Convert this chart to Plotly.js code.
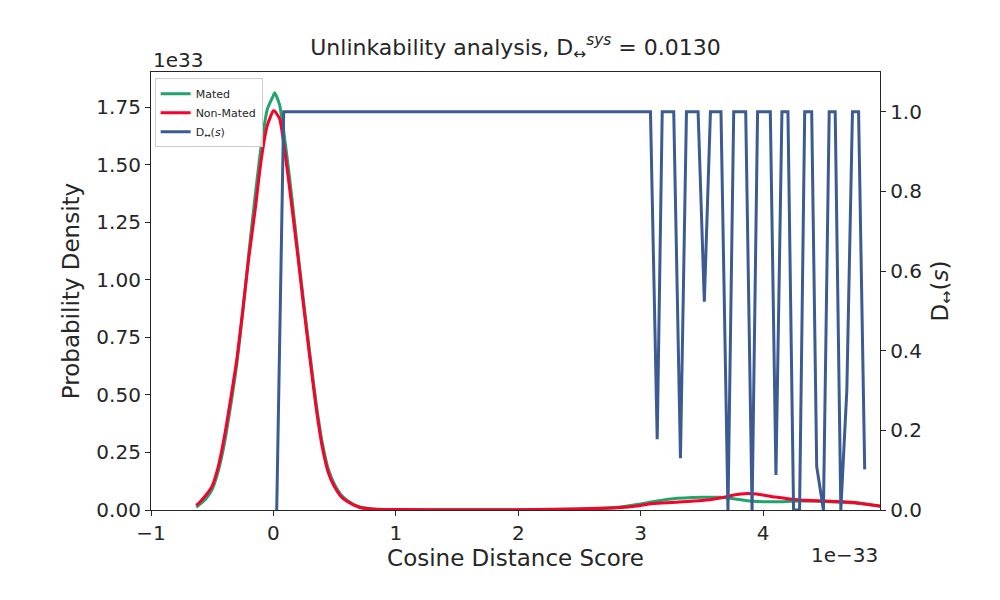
<!DOCTYPE html>
<html>
<head>
<meta charset="utf-8">
<script src="https://cdn.plot.ly/plotly-3.0.1.min.js"></script>
<style>
  body { margin: 0; background: #fff; }
  #chart { width: 1000px; height: 600px; }
</style>
</head>
<body>
<div id="chart"></div>
<script>
// scores are in units of 1e-33, densities in units of 1e33 (matplotlib offset text)
var score = [-0.63, -0.6, -0.55, -0.5, -0.45, -0.4, -0.35, -0.3, -0.25, -0.2, -0.15, -0.1, -0.05,
             0.0, 0.01, 0.05, 0.1, 0.15, 0.2, 0.25, 0.3, 0.35, 0.4, 0.45, 0.5, 0.55, 0.6, 0.7, 0.8, 0.9,
             1.0, 1.5, 2.0, 2.35, 2.6, 2.81, 3.0, 3.1, 3.25, 3.5, 3.65, 3.75, 3.87, 3.95, 4.1, 4.3, 4.5, 4.75, 4.96];

var mated = [0.012, 0.025, 0.05, 0.09, 0.17, 0.29, 0.45, 0.63, 0.86, 1.12, 1.36, 1.58, 1.74,
             1.80, 1.812, 1.76, 1.58, 1.36, 1.12, 0.89, 0.67, 0.46, 0.29, 0.175, 0.11, 0.068, 0.043, 0.014, 0.005, 0.002,
             0.002, 0.001, 0.001, 0.003, 0.006, 0.012, 0.026, 0.036, 0.048, 0.055, 0.055, 0.05, 0.04, 0.037, 0.036, 0.039, 0.037, 0.03, 0.016];

var nonMated = [0.02, 0.035, 0.065, 0.105, 0.19, 0.32, 0.48, 0.65, 0.87, 1.10, 1.30, 1.52, 1.67,
                1.734, 1.732, 1.70, 1.53, 1.32, 1.10, 0.87, 0.65, 0.44, 0.27, 0.16, 0.10, 0.06, 0.038, 0.012, 0.004, 0.002,
                0.002, 0.001, 0.001, 0.003, 0.006, 0.01, 0.02, 0.028, 0.033, 0.041, 0.052, 0.064, 0.072, 0.069, 0.056, 0.043, 0.039, 0.033, 0.017];

var dScore = [0.027, 0.084, 3.08, 3.135, 3.176, 3.27, 3.325, 3.374, 3.469, 3.52, 3.57, 3.656, 3.713, 3.76,
              3.858, 3.91, 3.955, 4.059, 4.105, 4.154, 4.203, 4.249, 4.298, 4.34, 4.397, 4.438, 4.493,
              4.54, 4.589, 4.635, 4.684, 4.73, 4.78, 4.83];
var dValue = [0, 1, 1, 0.178, 1, 1, 0.13, 1, 1, 0.523, 1, 1, 0, 1,
              1, 0, 1, 1, 0.088, 1, 1, 0, 0, 1, 1, 0.109, 0,
              1, 1, 0, 0.30, 1, 1, 0.102];

var dSys = '0.0130';

var ink = '#262626';
var font = 'DejaVu Sans, sans-serif';

var data = [
    {x: score, y: mated, name: 'Mated', type: 'scatter', mode: 'lines',
     line: {color: '#21a36b', width: 3, shape: 'spline', smoothing: 0.6}, yaxis: 'y'},
    {x: score, y: nonMated, name: 'Non-Mated', type: 'scatter', mode: 'lines',
     line: {color: '#f7022a', width: 3, shape: 'spline', smoothing: 0.6}, yaxis: 'y'},
    {x: dScore, y: dValue, name: 'D<sub>↔</sub>(<i>s</i>)', type: 'scatter', mode: 'lines',
     line: {color: '#3b5b92', width: 3}, yaxis: 'y2'}
];

var layout = {
    width: 1000,
    height: 600,
    paper_bgcolor: '#fff',
    plot_bgcolor: '#fff',
    font: {family: font, color: ink, size: 20},
    margin: {l: 151, r: 120, t: 72, b: 90},
    showlegend: true,
    title: {
        text: 'Unlinkability analysis, D<sub>↔</sub><sup><i>sys</i></sup> = ' + dSys,
        font: {size: 22, color: ink},
        x: 0.5155, xanchor: 'center',
        y: 0.922, yanchor: 'middle'
    },
    xaxis: {
        range: [-1, 4.955],
        dtick: 1,
        tick0: 0,
        showgrid: false,
        zeroline: false,
        showline: true,
        mirror: true,
        linecolor: ink,
        linewidth: 1.25,
        ticks: 'outside',
        ticklen: 5,
        tickwidth: 1.25,
        tickcolor: ink,
        tickfont: {size: 20},
        title: {text: 'Cosine Distance Score', font: {size: 23}, standoff: 4}
    },
    yaxis: {
        range: [0, 1.902],
        dtick: 0.25,
        tickformat: '.2f',
        showgrid: false,
        zeroline: false,
        showline: true,
        linecolor: ink,
        linewidth: 1.25,
        ticks: 'outside',
        ticklen: 5,
        tickwidth: 1.25,
        tickcolor: ink,
        tickfont: {size: 20},
        title: {text: 'Probability Density', font: {size: 23}, standoff: 10}
    },
    yaxis2: {
        overlaying: 'y',
        side: 'right',
        range: [0, 1.1],
        dtick: 0.2,
        tickformat: '.1f',
        showgrid: false,
        zeroline: false,
        showline: true,
        linecolor: ink,
        linewidth: 1.25,
        ticks: 'outside',
        ticklen: 5,
        tickwidth: 1.25,
        tickcolor: ink,
        tickfont: {size: 20},
        title: {text: 'D<sub>↔</sub>(<i>s</i>)', font: {size: 23}, standoff: 10}
    },
    legend: {
        x: 0.005, y: 0.986,
        xanchor: 'left', yanchor: 'top',
        bgcolor: 'rgba(255,255,255,0.8)',
        bordercolor: '#cccccc',
        borderwidth: 1,
        font: {size: 11, color: ink},
        itemwidth: 30,
        tracegroupgap: 0
    },
    annotations: [
        {xref: 'paper', yref: 'paper', x: 0, y: 1, xanchor: 'left', yanchor: 'bottom',
         text: '1e33', showarrow: false, font: {size: 20}, yshift: -2},
        {xref: 'paper', yref: 'paper', x: 1, y: -0.103, xanchor: 'right', yanchor: 'middle',
         text: '1e−33', showarrow: false, font: {size: 20}}
    ]
};

Plotly.newPlot('chart', data, layout, {displayModeBar: false, responsive: false});
</script>
</body>
</html>
